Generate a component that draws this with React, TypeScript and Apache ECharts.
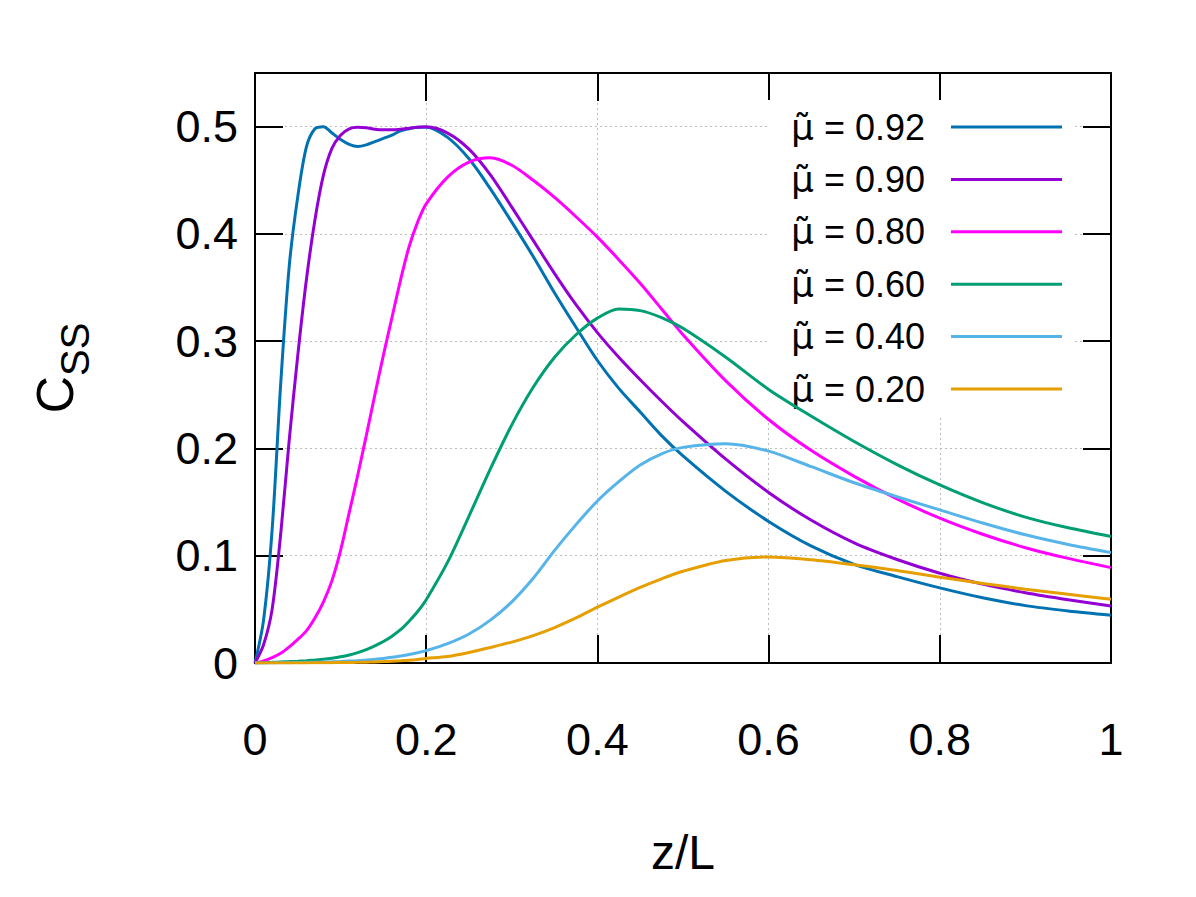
import React, { useEffect, useRef } from "react";
import * as echarts from "echarts";

const zValues = [
  0, 0.01, 0.02, 0.03, 0.04, 0.05, 0.06, 0.07, 0.08, 0.09, 0.1, 0.11, 0.12, 0.13, 0.14, 0.15, 0.16, 0.17, 0.18, 0.19, 0.2,
  0.225, 0.25, 0.275, 0.3, 0.325, 0.35, 0.375, 0.4, 0.425, 0.45, 0.475, 0.5,
  0.55, 0.6, 0.65, 0.7, 0.75, 0.8, 0.85, 0.9, 0.95, 1.0,
];

const mu092 = [
  0, 0.04, 0.124, 0.26, 0.37, 0.435, 0.481, 0.498, 0.5, 0.494, 0.488, 0.4835, 0.4815, 0.483, 0.486, 0.489, 0.492, 0.496, 0.498, 0.4995, 0.4995,
  0.49, 0.47, 0.442, 0.411, 0.379, 0.345, 0.313, 0.282, 0.256, 0.234, 0.212, 0.193,
  0.16, 0.132, 0.109, 0.092, 0.0805, 0.07, 0.0608, 0.0535, 0.0485, 0.0445,
];

const mu090 = [
  0, 0.017, 0.05, 0.12, 0.208, 0.287, 0.357, 0.413, 0.455, 0.48, 0.492, 0.498, 0.4995, 0.499, 0.4975, 0.497, 0.497, 0.4975, 0.4985, 0.4995, 0.4998,
  0.494, 0.479, 0.455, 0.425, 0.394, 0.363, 0.334, 0.308, 0.285, 0.264, 0.244, 0.225,
  0.19, 0.159, 0.133, 0.112, 0.0965, 0.0837, 0.0735, 0.0655, 0.059, 0.0532,
];

const mu080 = [
  0, 0.002, 0.005, 0.009, 0.015, 0.022, 0.03, 0.042, 0.057, 0.077, 0.105, 0.14, 0.175, 0.212, 0.25, 0.287, 0.322, 0.357, 0.388, 0.411, 0.428,
  0.453, 0.467, 0.471, 0.464, 0.45, 0.434, 0.416, 0.397, 0.376, 0.354, 0.33, 0.306,
  0.263, 0.227, 0.198, 0.174, 0.153, 0.135, 0.12, 0.1075, 0.0975, 0.0889,
];

const mu060 = [
  0, 0.0003, 0.0006, 0.001, 0.0013, 0.0017, 0.0022, 0.0028, 0.0035, 0.0045, 0.0058, 0.0075, 0.0097, 0.0125, 0.016, 0.02, 0.025, 0.031, 0.039, 0.048, 0.059,
  0.094, 0.137, 0.181, 0.222, 0.257, 0.285, 0.306, 0.3215, 0.33, 0.3285, 0.322, 0.312,
  0.285, 0.255, 0.23, 0.2065, 0.185, 0.166, 0.1495, 0.136, 0.126, 0.118,
];

const mu040 = [
  0, 0, 0.0001, 0.0002, 0.0003, 0.0004, 0.0005, 0.0007, 0.0009, 0.0011, 0.0014, 0.0018, 0.0022, 0.0028, 0.0035, 0.0043, 0.0053, 0.0065, 0.0079, 0.0096, 0.0115,
  0.018, 0.027, 0.04, 0.057, 0.079, 0.105, 0.129, 0.151, 0.169, 0.1845, 0.195, 0.201,
  0.2045, 0.1975, 0.183, 0.168, 0.155, 0.1427, 0.1305, 0.1195, 0.1105, 0.1029,
];

const mu020 = [
  0, 0, 0, 0, 0, 0.0001, 0.0001, 0.0002, 0.0002, 0.0003, 0.0004, 0.0005, 0.0006, 0.0008, 0.001, 0.0013, 0.0017, 0.0021, 0.0026, 0.0033, 0.0042,
  0.006, 0.0098, 0.0145, 0.0195, 0.0255, 0.033, 0.042, 0.052, 0.0615, 0.0705, 0.0785, 0.0855,
  0.0955, 0.0988, 0.0962, 0.0915, 0.0862, 0.08, 0.0742, 0.0688, 0.064, 0.0594,
];

const seriesNames = ["μ̃ = 0.92", "μ̃ = 0.90", "μ̃ = 0.80", "μ̃ = 0.60", "μ̃ = 0.40", "μ̃ = 0.20"];
const seriesValues = [mu092, mu090, mu080, mu060, mu040, mu020];
const seriesColors = ["#0072b2", "#9400d3", "#ff00ff", "#009e73", "#56b4e9", "#e69f00"];

const FONT = "'Liberation Sans', Arial, Helvetica, sans-serif";

export default function App() {
  const ref = useRef<HTMLDivElement>(null);

  useEffect(() => {
    document.body.style.margin = "0";
    const chart = echarts.init(ref.current as HTMLDivElement, null, { renderer: "svg" });

    const axisLine = { show: true, onZero: false, lineStyle: { color: "#000", width: 2 } };
    const axisTick = { show: true, inside: true, length: 28, lineStyle: { color: "#000", width: 2 } };
    const splitLine = { show: true, lineStyle: { color: "#bdbdbd", width: 1, type: [2, 3] } };

    chart.setOption({
      animation: false,
      backgroundColor: "#fff",
      textStyle: { fontFamily: FONT },
      grid: { left: 255, top: 73, width: 856, height: 590 },
      legend: {
        data: seriesNames,
        orient: "vertical",
        align: "right",
        right: 121,
        top: 100,
        z: 1,
        backgroundColor: "#fff",
        padding: [7, 13, 6, 24],
        itemGap: 12.4,
        itemWidth: 111,
        itemHeight: 3,
        icon: "rect",
        formatter: (name: string) => "{m|μ̃}" + name.slice(2),
        textStyle: {
          fontSize: 36,
          color: "#000",
          fontFamily: FONT,
          lineHeight: 40,
          padding: [0, 21, 0, 0],
          rich: {
            m: { fontSize: 36, color: "#000", fontFamily: "'DejaVu Sans', sans-serif", lineHeight: 40 },
          },
        },
      },
      xAxis: [
        {
          type: "value",
          min: 0,
          max: 1,
          interval: 0.2,
          position: "bottom",
          axisLine,
          axisTick,
          splitLine,
          axisLabel: { fontSize: 45, color: "#000", margin: 54, fontFamily: FONT },
          name: "z/L",
          nameLocation: "middle",
          nameGap: 165,
          nameTextStyle: { fontSize: 48, color: "#000", fontFamily: FONT },
        },
        {
          type: "value",
          min: 0,
          max: 1,
          interval: 0.2,
          position: "top",
          axisLine,
          axisTick,
          splitLine: { show: false },
          axisLabel: { show: false },
        },
      ],
      yAxis: [
        {
          type: "value",
          min: 0,
          max: 0.55,
          interval: 0.1,
          position: "left",
          axisLine,
          axisTick,
          splitLine,
          axisLabel: { fontSize: 45, color: "#000", margin: 17, fontFamily: FONT, showMaxLabel: false },
          name: "{c|C}{s|SS}",
          nameLocation: "middle",
          nameGap: 160,
          nameRotate: 90,
          nameTextStyle: {
            color: "#000",
            fontFamily: FONT,
            rich: {
              c: { fontSize: 52, color: "#000", fontFamily: FONT, verticalAlign: "bottom", lineHeight: 70, padding: [0, 0, 14, 0] },
              s: { fontSize: 40, color: "#000", fontFamily: FONT, verticalAlign: "bottom", lineHeight: 70 },
            },
          },
        },
        {
          type: "value",
          min: 0,
          max: 0.55,
          interval: 0.1,
          position: "right",
          axisLine,
          axisTick,
          splitLine: { show: false },
          axisLabel: { show: false },
        },
      ],
      series: seriesNames.map((name, i) => ({
        name,
        type: "line",
        xAxisIndex: 0,
        yAxisIndex: 0,
        data: zValues.map((z, j) => [z, seriesValues[i][j]]),
        showSymbol: false,
        symbol: "none",
        smooth: 0.3,
        z: 2,
        color: seriesColors[i],
        lineStyle: { color: seriesColors[i], width: 3 },
      })),
    });

    return () => chart.dispose();
  }, []);

  return <div ref={ref} style={{ width: 1196, height: 897 }} />;
}
